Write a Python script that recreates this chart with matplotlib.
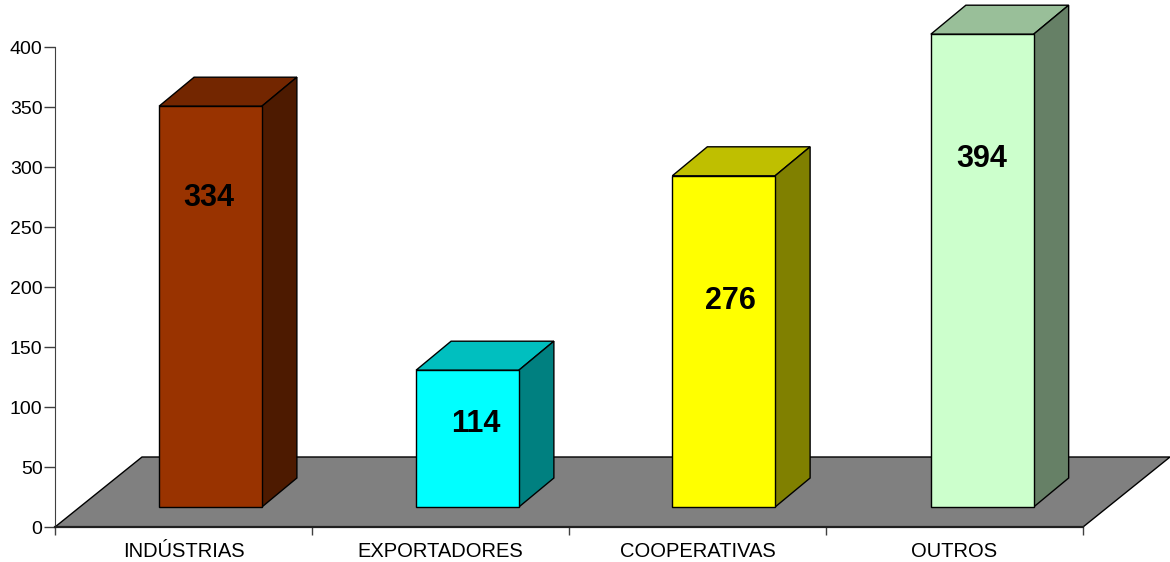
import matplotlib
matplotlib.use('Agg')
import matplotlib.pyplot as plt

categories = ['INDÚSTRIAS', 'EXPORTADORES', 'COOPERATIVAS', 'OUTROS']
values = [334, 114, 276, 394]
yticks = [0, 50, 100, 150, 200, 250, 300, 350, 400]

front_colors = ['#993300', '#00FFFF', '#FFFF00', '#CCFFCC']
top_colors = ['#732600', '#00BFBF', '#BFBF00', '#99BF99']
side_colors = ['#4D1A00', '#008080', '#808000', '#668066']

# one category is 257 px wide, one value unit is 1.2 px
px_x = 257.0
px_y = 1.2
bar_left = [0.405, 1.405, 2.402, 3.408]
bar_width = 0.4
bar_base = 20 / px_y
depth_x = 35 / px_x
depth_y = 29 / px_y
floor_x = 87 / px_x
floor_y = 70 / px_y
label_x = [0.6, 1.637, 2.627, 3.605]
label_y = [274, 86, 188, 307]

plt.rcParams['font.family'] = ['Liberation Sans', 'DejaVu Sans']

fig = plt.figure(figsize=(11.7, 5.62), dpi=100)
ax = fig.add_axes([0, 0, 1, 1])
ax.set_xlim(-55 / px_x, (1170 - 55) / px_x)
ax.set_ylim(-35 / px_y, 527 / px_y)
ax.patch.set_visible(False)

# floor
ax.fill([0, floor_x, 4 + floor_x, 4], [0, floor_y, floor_y, 0],
        facecolor='#808080', edgecolor='black', linewidth=1, zorder=1)

for i, v in enumerate(values):
    x0 = bar_left[i]
    x1 = x0 + bar_width
    y0 = bar_base
    y1 = bar_base + v
    ax.bar(x0, v, width=bar_width, bottom=y0, align='edge', color=front_colors[i],
           edgecolor='black', linewidth=1, zorder=3)
    ax.fill([x0, x0 + depth_x, x1 + depth_x, x1], [y1, y1 + depth_y, y1 + depth_y, y1],
            facecolor=top_colors[i], edgecolor='black', linewidth=1, zorder=2)
    ax.fill([x1, x1 + depth_x, x1 + depth_x, x1], [y0, y0 + depth_y, y1 + depth_y, y1],
            facecolor=side_colors[i], edgecolor='black', linewidth=1, zorder=2)
    ax.text(label_x[i], label_y[i], str(v), ha='center', va='center', fontsize=22,
            fontweight='bold', color='black', zorder=4)

for s in ['top', 'right']:
    ax.spines[s].set_visible(False)
ax.spines['left'].set_position(('data', 0))
ax.spines['left'].set_bounds(0, 400)
ax.spines['left'].set_color('#404040')
ax.spines['bottom'].set_position(('data', 0))
ax.spines['bottom'].set_bounds(0, 4)
ax.spines['bottom'].set_linewidth(1.6)
ax.spines['bottom'].set_color('#202020')

ax.set_yticks(yticks)
ax.tick_params(axis='y', length=8, width=1, labelsize=14, pad=1, color='#404040')
ax.set_xticks(range(5))
ax.set_xticklabels([''] * 5)
ax.tick_params(axis='x', which='major', length=6, width=1, color='#404040')
ax.set_xticks([i + 0.5 for i in range(4)], minor=True)
ax.set_xticklabels(categories, minor=True)
ax.tick_params(axis='x', which='minor', length=0, labelsize=14.5, pad=11)

fig.savefig('out.png', dpi=100)
